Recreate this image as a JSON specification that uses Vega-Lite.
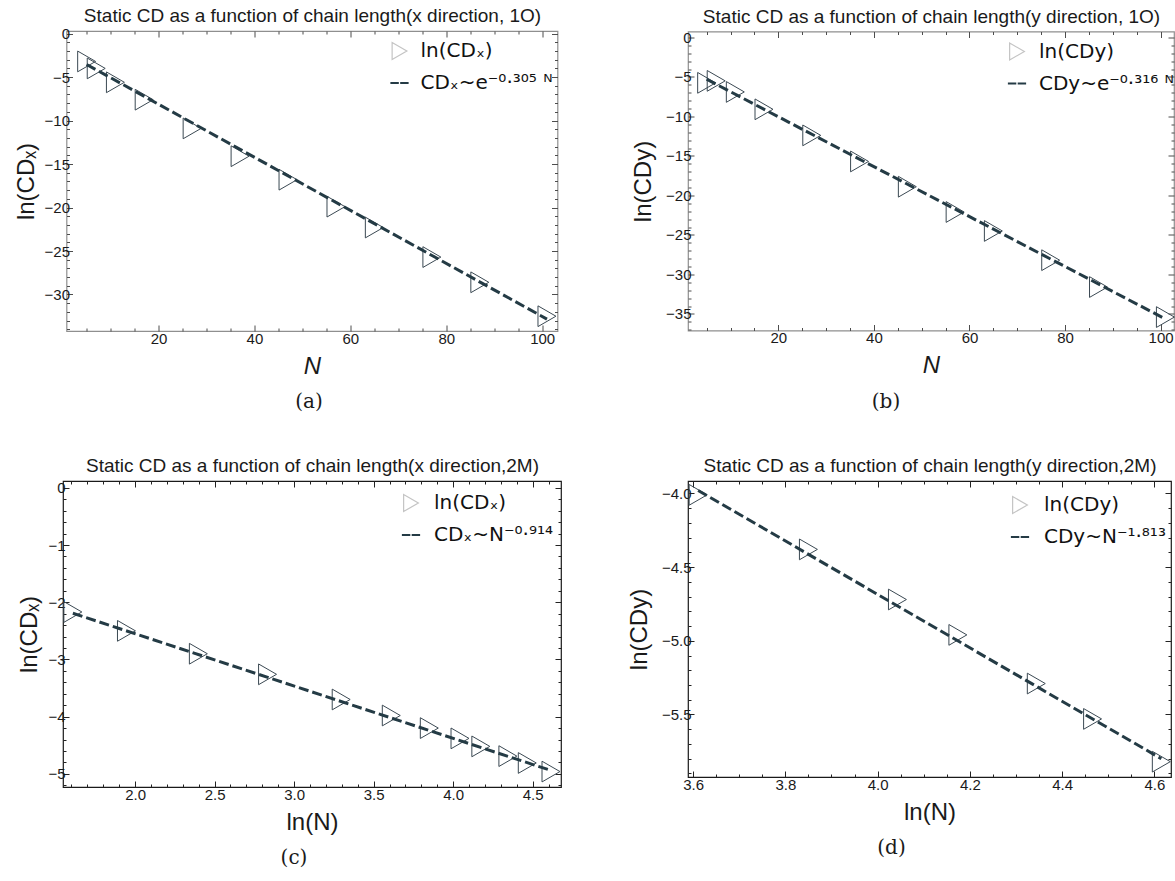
{
  "$schema": "https://vega.github.io/schema/vega-lite/v6.json",
  "padding": {"left": 13, "top": 5, "right": 0, "bottom": 0},
  "background": "white",
  "datasets": {
    "pa": [
      {"N": 5, "v": -3.2, "s": "ln(CDₓ)"}, {"N": 7, "v": -4.0, "s": "ln(CDₓ)"}, {"N": 11, "v": -5.6, "s": "ln(CDₓ)"},
      {"N": 17, "v": -7.6, "s": "ln(CDₓ)"}, {"N": 27, "v": -10.9, "s": "ln(CDₓ)"}, {"N": 37, "v": -14.1, "s": "ln(CDₓ)"},
      {"N": 47, "v": -16.8, "s": "ln(CDₓ)"}, {"N": 57, "v": -19.9, "s": "ln(CDₓ)"}, {"N": 65, "v": -22.3, "s": "ln(CDₓ)"},
      {"N": 77, "v": -25.7, "s": "ln(CDₓ)"}, {"N": 87, "v": -28.6, "s": "ln(CDₓ)"}, {"N": 101, "v": -32.5, "s": "ln(CDₓ)"}
    ],
    "fa": [{"N": 5, "v": -3.55}, {"N": 101, "v": -32.83}],
    "pb": [
      {"N": 5, "v": -5.75, "s": "ln(CDy)"}, {"N": 7, "v": -5.5, "s": "ln(CDy)"}, {"N": 11, "v": -6.9, "s": "ln(CDy)"},
      {"N": 17, "v": -9.1, "s": "ln(CDy)"}, {"N": 27, "v": -12.4, "s": "ln(CDy)"}, {"N": 37, "v": -15.7, "s": "ln(CDy)"},
      {"N": 47, "v": -18.9, "s": "ln(CDy)"}, {"N": 57, "v": -22.1, "s": "ln(CDy)"}, {"N": 65, "v": -24.5, "s": "ln(CDy)"},
      {"N": 77, "v": -28.2, "s": "ln(CDy)"}, {"N": 87, "v": -31.6, "s": "ln(CDy)"}, {"N": 101, "v": -35.4, "s": "ln(CDy)"}
    ],
    "fb": [{"N": 5, "v": -5.3}, {"N": 101, "v": -35.64}],
    "pc": [
      {"lnN": 1.609, "v": -2.17, "s": "ln(CDₓ)"}, {"lnN": 1.946, "v": -2.5, "s": "ln(CDₓ)"}, {"lnN": 2.398, "v": -2.9, "s": "ln(CDₓ)"},
      {"lnN": 2.833, "v": -3.26, "s": "ln(CDₓ)"}, {"lnN": 3.296, "v": -3.7, "s": "ln(CDₓ)"}, {"lnN": 3.611, "v": -3.98, "s": "ln(CDₓ)"},
      {"lnN": 3.85, "v": -4.2, "s": "ln(CDₓ)"}, {"lnN": 4.043, "v": -4.38, "s": "ln(CDₓ)"}, {"lnN": 4.174, "v": -4.52, "s": "ln(CDₓ)"},
      {"lnN": 4.344, "v": -4.69, "s": "ln(CDₓ)"}, {"lnN": 4.466, "v": -4.81, "s": "ln(CDₓ)"}, {"lnN": 4.615, "v": -4.96, "s": "ln(CDₓ)"}
    ],
    "fc": [{"lnN": 1.609, "v": -2.193}, {"lnN": 4.615, "v": -4.941}],
    "pd": [
      {"lnN": 3.611, "v": -4.01, "s": "ln(CDy)"}, {"lnN": 3.85, "v": -4.38, "s": "ln(CDy)"}, {"lnN": 4.043, "v": -4.72, "s": "ln(CDy)"},
      {"lnN": 4.174, "v": -4.96, "s": "ln(CDy)"}, {"lnN": 4.344, "v": -5.29, "s": "ln(CDy)"}, {"lnN": 4.466, "v": -5.53, "s": "ln(CDy)"},
      {"lnN": 4.615, "v": -5.82, "s": "ln(CDy)"}
    ],
    "fd": [{"lnN": 3.611, "v": -3.98}, {"lnN": 4.615, "v": -5.8}]
  },
  "columns": 2,
  "bounds": "flush",
  "center": true,
  "spacing": {"row": 150, "column": 127},
  "resolve": {"scale": {"shape": "independent", "stroke": "independent"}, "legend": {"shape": "independent", "stroke": "independent"}},
  "concat": [
    {
      "width": 491, "height": 300,
      "title": {"text": "(a)", "orient": "bottom", "anchor": "middle", "frame": "group", "offset": 14, "dx": -3},
      "view": {"stroke": "#8f8f8f"},
      "layer": [
        {
          "data": {"name": "pa"},
          "mark": {"type": "point", "shape": "triangle-right", "filled": false, "size": 430, "stroke": "#3b4953", "strokeWidth": 1, "opacity": 1},
          "encoding": {
            "x": {"field": "N", "type": "quantitative", "scale": {"domain": [0.8, 103.2], "nice": false, "zero": false},
              "axis": {"orient": "bottom", "title": "N", "titleFontStyle": "italic", "values": [5,10,15,20,25,30,35,40,45,50,55,60,65,70,75,80,85,90,95,100],
                "labelExpr": "datum.value % 20 === 0 ? datum.label : ''",
                "tickSize": {"condition": {"test": "datum.value % 20 === 0", "value": -6}, "value": -3}, "labelPadding": 6, "titlePadding": 5}},
            "y": {"field": "v", "type": "quantitative", "scale": {"domain": [-34.2, 0.3], "nice": false, "zero": false},
              "axis": {"orient": "left", "title": "ln(CDₓ)", "values": [0,-1,-2,-3,-4,-5,-6,-7,-8,-9,-10,-11,-12,-13,-14,-15,-16,-17,-18,-19,-20,-21,-22,-23,-24,-25,-26,-27,-28,-29,-30,-31,-32,-33,-34],
                "labelExpr": "datum.value % 5 === 0 ? datum.label : ''",
                "tickSize": {"condition": {"test": "datum.value % 5 === 0", "value": -6}, "value": -3}, "labelPadding": 3, "titlePadding": 6}}
          }
        },
        {
          "data": {"name": "pa"},
          "mark": {"type": "point", "filled": false, "size": 430, "strokeWidth": 1.2, "opacity": 0},
          "encoding": {
            "x": {"field": "N", "type": "quantitative", "axis": null},
            "y": {"field": "v", "type": "quantitative", "axis": null},
            "shape": {"field": "s", "type": "nominal",
              "scale": {"domain": ["ln(CDₓ)", "CDₓ~e⁻⁰·³⁰⁵ ᴺ"], "range": ["triangle-right", "M-1,-0.05H-0.15V0.05H-1ZM0.15,-0.05H1V0.05H0.15Z"]},
              "legend": {"orient": "none", "legendX": 323, "legendY": 10, "labelOffset": 11,
                "encode": {"symbols": {"update": {"opacity": {"value": 1}, "fill": {"value": "transparent"}}}}}},
            "stroke": {"field": "s", "type": "nominal",
              "scale": {"domain": ["ln(CDₓ)", "CDₓ~e⁻⁰·³⁰⁵ ᴺ"], "range": ["#c4c4c4", "#243b45"]},
              "legend": {"orient": "none", "legendX": 323, "legendY": 10, "labelOffset": 11,
                "encode": {"symbols": {"update": {"opacity": {"value": 1}, "fill": {"value": "transparent"}}}}}}
          }
        },
        {
          "data": {"name": "fa"},
          "mark": {"type": "line", "stroke": "#243b45", "strokeWidth": 3, "strokeDash": [10, 4]},
          "encoding": {
            "x": {"field": "N", "type": "quantitative", "scale": {"domain": [0.8, 103.2], "nice": false, "zero": false},
              "axis": {"orient": "top", "labels": false, "title": "Static CD as a function of chain length(x direction, 1O)", "titleFontSize": 19, "titlePadding": 5,
                "values": [5,10,15,20,25,30,35,40,45,50,55,60,65,70,75,80,85,90,95,100],
                "tickSize": {"condition": {"test": "datum.value % 20 === 0", "value": -6}, "value": -3}}},
            "y": {"field": "v", "type": "quantitative", "scale": {"domain": [-34.2, 0.3], "nice": false, "zero": false},
              "axis": {"orient": "right", "labels": false, "title": null,
                "values": [0,-1,-2,-3,-4,-5,-6,-7,-8,-9,-10,-11,-12,-13,-14,-15,-16,-17,-18,-19,-20,-21,-22,-23,-24,-25,-26,-27,-28,-29,-30,-31,-32,-33,-34],
                "tickSize": {"condition": {"test": "datum.value % 5 === 0", "value": -6}, "value": -3}}}
          }
        }
      ],
      "resolve": {"axis": {"x": "independent", "y": "independent"}}
    },
    {
      "width": 486, "height": 299,
      "title": {"text": "(b)", "orient": "bottom", "anchor": "middle", "frame": "group", "offset": 14, "dx": -45},
      "view": {"stroke": "#8f8f8f"},
      "layer": [
        {
          "data": {"name": "pb"},
          "mark": {"type": "point", "shape": "triangle-right", "filled": false, "size": 430, "stroke": "#3b4953", "strokeWidth": 1, "opacity": 1},
          "encoding": {
            "x": {"field": "N", "type": "quantitative", "scale": {"domain": [1.1, 102.8], "nice": false, "zero": false},
              "axis": {"orient": "bottom", "title": "N", "titleFontStyle": "italic", "values": [5,10,15,20,25,30,35,40,45,50,55,60,65,70,75,80,85,90,95,100],
                "labelExpr": "datum.value % 20 === 0 ? datum.label : ''",
                "tickSize": {"condition": {"test": "datum.value % 20 === 0", "value": -6}, "value": -3}, "labelPadding": 6, "titlePadding": 5}},
            "y": {"field": "v", "type": "quantitative", "scale": {"domain": [-37.1, 0.75], "nice": false, "zero": false},
              "axis": {"orient": "left", "title": "ln(CDy)", "values": [0,-1,-2,-3,-4,-5,-6,-7,-8,-9,-10,-11,-12,-13,-14,-15,-16,-17,-18,-19,-20,-21,-22,-23,-24,-25,-26,-27,-28,-29,-30,-31,-32,-33,-34,-35,-36,-37],
                "labelExpr": "datum.value % 5 === 0 ? datum.label : ''",
                "tickSize": {"condition": {"test": "datum.value % 5 === 0", "value": -6}, "value": -3}, "labelPadding": 3, "titlePadding": 10}}
          }
        },
        {
          "data": {"name": "pb"},
          "mark": {"type": "point", "filled": false, "size": 430, "strokeWidth": 1.2, "opacity": 0},
          "encoding": {
            "x": {"field": "N", "type": "quantitative", "axis": null},
            "y": {"field": "v", "type": "quantitative", "axis": null},
            "shape": {"field": "s", "type": "nominal",
              "scale": {"domain": ["ln(CDy)", "CDy~e⁻⁰·³¹⁶ ᴺ"], "range": ["triangle-right", "M-1,-0.05H-0.15V0.05H-1ZM0.15,-0.05H1V0.05H0.15Z"]},
              "legend": {"orient": "none", "legendX": 319, "legendY": 10, "labelOffset": 12,
                "encode": {"symbols": {"update": {"opacity": {"value": 1}, "fill": {"value": "transparent"}}}}}},
            "stroke": {"field": "s", "type": "nominal",
              "scale": {"domain": ["ln(CDy)", "CDy~e⁻⁰·³¹⁶ ᴺ"], "range": ["#c4c4c4", "#243b45"]},
              "legend": {"orient": "none", "legendX": 319, "legendY": 10, "labelOffset": 12,
                "encode": {"symbols": {"update": {"opacity": {"value": 1}, "fill": {"value": "transparent"}}}}}}
          }
        },
        {
          "data": {"name": "fb"},
          "mark": {"type": "line", "stroke": "#243b45", "strokeWidth": 3, "strokeDash": [10, 4]},
          "encoding": {
            "x": {"field": "N", "type": "quantitative", "scale": {"domain": [1.1, 102.8], "nice": false, "zero": false},
              "axis": {"orient": "top", "labels": false, "title": "Static CD as a function of chain length(y direction, 1O)", "titleFontSize": 19, "titlePadding": 5,
                "values": [5,10,15,20,25,30,35,40,45,50,55,60,65,70,75,80,85,90,95,100],
                "tickSize": {"condition": {"test": "datum.value % 20 === 0", "value": -6}, "value": -3}}},
            "y": {"field": "v", "type": "quantitative", "scale": {"domain": [-37.1, 0.75], "nice": false, "zero": false},
              "axis": {"orient": "right", "labels": false, "title": null,
                "values": [0,-1,-2,-3,-4,-5,-6,-7,-8,-9,-10,-11,-12,-13,-14,-15,-16,-17,-18,-19,-20,-21,-22,-23,-24,-25,-26,-27,-28,-29,-30,-31,-32,-33,-34,-35,-36,-37],
                "tickSize": {"condition": {"test": "datum.value % 5 === 0", "value": -6}, "value": -3}}}
          }
        }
      ],
      "resolve": {"axis": {"x": "independent", "y": "independent"}}
    },
    {
      "width": 498, "height": 306,
      "title": {"text": "(c)", "orient": "bottom", "anchor": "middle", "frame": "group", "offset": 14, "dx": -18},
      "view": {"stroke": "#1a1a1a"},
      "layer": [
        {
          "data": {"name": "pc"},
          "mark": {"type": "point", "shape": "triangle-right", "filled": false, "size": 430, "stroke": "#3b4953", "strokeWidth": 1, "opacity": 1},
          "encoding": {
            "x": {"field": "lnN", "type": "quantitative", "scale": {"domain": [1.547, 4.678], "nice": false, "zero": false},
              "axis": {"orient": "bottom", "title": "ln(N)", "tickColor": "#222222", "values": [1.6,1.7,1.8,1.9,2.0,2.1,2.2,2.3,2.4,2.5,2.6,2.7,2.8,2.9,3.0,3.1,3.2,3.3,3.4,3.5,3.6,3.7,3.8,3.9,4.0,4.1,4.2,4.3,4.4,4.5,4.6],
                "labelExpr": "abs(datum.value*2 - round(datum.value*2)) < 0.001 ? format(datum.value, '.1f') : ''",
                "tickSize": {"condition": {"test": "abs(datum.value*2 - round(datum.value*2)) < 0.001", "value": -6}, "value": -3}, "labelPadding": 6, "titlePadding": 5}},
            "y": {"field": "v", "type": "quantitative", "scale": {"domain": [-5.23, 0.12], "nice": false, "zero": false},
              "axis": {"orient": "left", "title": "ln(CDₓ)", "tickColor": "#222222", "values": [0,-0.2,-0.4,-0.6,-0.8,-1,-1.2,-1.4,-1.6,-1.8,-2,-2.2,-2.4,-2.6,-2.8,-3,-3.2,-3.4,-3.6,-3.8,-4,-4.2,-4.4,-4.6,-4.8,-5,-5.2],
                "labelExpr": "abs(datum.value - round(datum.value)) < 0.001 ? format(datum.value, 'd') : ''",
                "tickSize": {"condition": {"test": "abs(datum.value - round(datum.value)) < 0.001", "value": -6}, "value": -3}, "labelPadding": 4, "titlePadding": 6}}
          }
        },
        {
          "data": {"name": "pc"},
          "mark": {"type": "point", "filled": false, "size": 430, "strokeWidth": 1.2, "opacity": 0},
          "encoding": {
            "x": {"field": "lnN", "type": "quantitative", "axis": null},
            "y": {"field": "v", "type": "quantitative", "axis": null},
            "shape": {"field": "s", "type": "nominal",
              "scale": {"domain": ["ln(CDₓ)", "CDₓ~N⁻⁰·⁹¹⁴"], "range": ["triangle-right", "M-1,-0.05H-0.15V0.05H-1ZM0.15,-0.05H1V0.05H0.15Z"]},
              "legend": {"orient": "none", "legendX": 338, "legendY": 12, "labelOffset": 13,
                "encode": {"symbols": {"update": {"opacity": {"value": 1}, "fill": {"value": "transparent"}}}}}},
            "stroke": {"field": "s", "type": "nominal",
              "scale": {"domain": ["ln(CDₓ)", "CDₓ~N⁻⁰·⁹¹⁴"], "range": ["#c4c4c4", "#243b45"]},
              "legend": {"orient": "none", "legendX": 338, "legendY": 12, "labelOffset": 13,
                "encode": {"symbols": {"update": {"opacity": {"value": 1}, "fill": {"value": "transparent"}}}}}}
          }
        },
        {
          "data": {"name": "fc"},
          "mark": {"type": "line", "stroke": "#243b45", "strokeWidth": 3, "strokeDash": [10, 4]},
          "encoding": {
            "x": {"field": "lnN", "type": "quantitative", "scale": {"domain": [1.547, 4.678], "nice": false, "zero": false},
              "axis": {"orient": "top", "labels": false, "tickColor": "#222222", "title": "Static CD as a function of chain length(x direction,2M)", "titleFontSize": 19, "titlePadding": 5,
                "values": [1.6,1.7,1.8,1.9,2.0,2.1,2.2,2.3,2.4,2.5,2.6,2.7,2.8,2.9,3.0,3.1,3.2,3.3,3.4,3.5,3.6,3.7,3.8,3.9,4.0,4.1,4.2,4.3,4.4,4.5,4.6],
                "tickSize": {"condition": {"test": "abs(datum.value*2 - round(datum.value*2)) < 0.001", "value": -6}, "value": -3}}},
            "y": {"field": "v", "type": "quantitative", "scale": {"domain": [-5.23, 0.12], "nice": false, "zero": false},
              "axis": {"orient": "right", "labels": false, "tickColor": "#222222", "title": null,
                "values": [0,-0.2,-0.4,-0.6,-0.8,-1,-1.2,-1.4,-1.6,-1.8,-2,-2.2,-2.4,-2.6,-2.8,-3,-3.2,-3.4,-3.6,-3.8,-4,-4.2,-4.4,-4.6,-4.8,-5,-5.2],
                "tickSize": {"condition": {"test": "abs(datum.value - round(datum.value)) < 0.001", "value": -6}, "value": -3}}}
          }
        }
      ],
      "resolve": {"axis": {"x": "independent", "y": "independent"}}
    },
    {
      "width": 483, "height": 296,
      "title": {"text": "(d)", "orient": "bottom", "anchor": "middle", "frame": "group", "offset": 14, "dx": -38},
      "view": {"stroke": "#1a1a1a"},
      "layer": [
        {
          "data": {"name": "pd"},
          "mark": {"type": "point", "shape": "triangle-right", "filled": false, "size": 430, "stroke": "#3b4953", "strokeWidth": 1, "opacity": 1},
          "encoding": {
            "x": {"field": "lnN", "type": "quantitative", "scale": {"domain": [3.589, 4.636], "nice": false, "zero": false},
              "axis": {"orient": "bottom", "title": "ln(N)", "tickColor": "#222222", "values": [3.6,3.65,3.7,3.75,3.8,3.85,3.9,3.95,4.0,4.05,4.1,4.15,4.2,4.25,4.3,4.35,4.4,4.45,4.5,4.55,4.6],
                "labelExpr": "abs(datum.value*5 - round(datum.value*5)) < 0.001 ? format(datum.value, '.1f') : ''",
                "tickSize": {"condition": {"test": "abs(datum.value*5 - round(datum.value*5)) < 0.001", "value": -6}, "value": -3}, "labelPadding": 6, "titlePadding": 5}},
            "y": {"field": "v", "type": "quantitative", "scale": {"domain": [-5.924, -3.916], "nice": false, "zero": false},
              "axis": {"orient": "left", "title": "ln(CDy)", "tickColor": "#222222", "values": [-4.0,-4.1,-4.2,-4.3,-4.4,-4.5,-4.6,-4.7,-4.8,-4.9,-5.0,-5.1,-5.2,-5.3,-5.4,-5.5,-5.6,-5.7,-5.8,-5.9],
                "labelExpr": "abs(datum.value*2 - round(datum.value*2)) < 0.001 ? format(datum.value, '.1f') : ''",
                "tickSize": {"condition": {"test": "abs(datum.value*2 - round(datum.value*2)) < 0.001", "value": -6}, "value": -3}, "labelPadding": 3, "titlePadding": 10}}
          }
        },
        {
          "data": {"name": "pd"},
          "mark": {"type": "point", "filled": false, "size": 430, "strokeWidth": 1.2, "opacity": 0},
          "encoding": {
            "x": {"field": "lnN", "type": "quantitative", "axis": null},
            "y": {"field": "v", "type": "quantitative", "axis": null},
            "shape": {"field": "s", "type": "nominal",
              "scale": {"domain": ["ln(CDy)", "CDy~N⁻¹·⁸¹³"], "range": ["triangle-right", "M-1,-0.05H-0.15V0.05H-1ZM0.15,-0.05H1V0.05H0.15Z"]},
              "legend": {"orient": "none", "legendX": 322, "legendY": 14, "labelOffset": 14,
                "encode": {"symbols": {"update": {"opacity": {"value": 1}, "fill": {"value": "transparent"}}}}}},
            "stroke": {"field": "s", "type": "nominal",
              "scale": {"domain": ["ln(CDy)", "CDy~N⁻¹·⁸¹³"], "range": ["#c4c4c4", "#243b45"]},
              "legend": {"orient": "none", "legendX": 322, "legendY": 14, "labelOffset": 14,
                "encode": {"symbols": {"update": {"opacity": {"value": 1}, "fill": {"value": "transparent"}}}}}}
          }
        },
        {
          "data": {"name": "fd"},
          "mark": {"type": "line", "stroke": "#243b45", "strokeWidth": 3, "strokeDash": [10, 4]},
          "encoding": {
            "x": {"field": "lnN", "type": "quantitative", "scale": {"domain": [3.589, 4.636], "nice": false, "zero": false},
              "axis": {"orient": "top", "labels": false, "tickColor": "#222222", "title": "Static CD as a function of chain length(y direction,2M)", "titleFontSize": 19, "titlePadding": 5,
                "values": [3.6,3.65,3.7,3.75,3.8,3.85,3.9,3.95,4.0,4.05,4.1,4.15,4.2,4.25,4.3,4.35,4.4,4.45,4.5,4.55,4.6],
                "tickSize": {"condition": {"test": "abs(datum.value*5 - round(datum.value*5)) < 0.001", "value": -6}, "value": -3}}},
            "y": {"field": "v", "type": "quantitative", "scale": {"domain": [-5.924, -3.916], "nice": false, "zero": false},
              "axis": {"orient": "right", "labels": false, "tickColor": "#222222", "title": null,
                "values": [-4.0,-4.1,-4.2,-4.3,-4.4,-4.5,-4.6,-4.7,-4.8,-4.9,-5.0,-5.1,-5.2,-5.3,-5.4,-5.5,-5.6,-5.7,-5.8,-5.9],
                "tickSize": {"condition": {"test": "abs(datum.value*2 - round(datum.value*2)) < 0.001", "value": -6}, "value": -3}}}
          }
        }
      ],
      "resolve": {"axis": {"x": "independent", "y": "independent"}}
    }
  ],
  "config": {
    "font": "Liberation Sans",
    "view": {"stroke": "#8f8f8f", "strokeWidth": 1.2},
    "axis": {
      "grid": false, "domain": false,
      "labelFont": "Liberation Sans", "labelFontSize": 15, "labelColor": "#1a1a1a",
      "titleFont": "Liberation Sans", "titleFontSize": 24, "titleFontWeight": "normal", "titleColor": "#1a1a1a",
      "labelFlush": false, "labelOverlap": false, "tickColor": "#4d4d4d", "tickWidth": 1
    },
    "title": {"font": "DejaVu Serif", "fontSize": 20, "fontWeight": "normal", "color": "#1a1a1a"},
    "legend": {
      "title": null, "padding": 0, "offset": 0, "symbolOffset": 0,
      "labelFont": "DejaVu Sans", "labelFontSize": 20, "labelColor": "#111111",
      "symbolSize": 290, "rowPadding": 11, "symbolStrokeWidth": 1.2,
      "symbolFillColor": "transparent"
    }
  }
}
